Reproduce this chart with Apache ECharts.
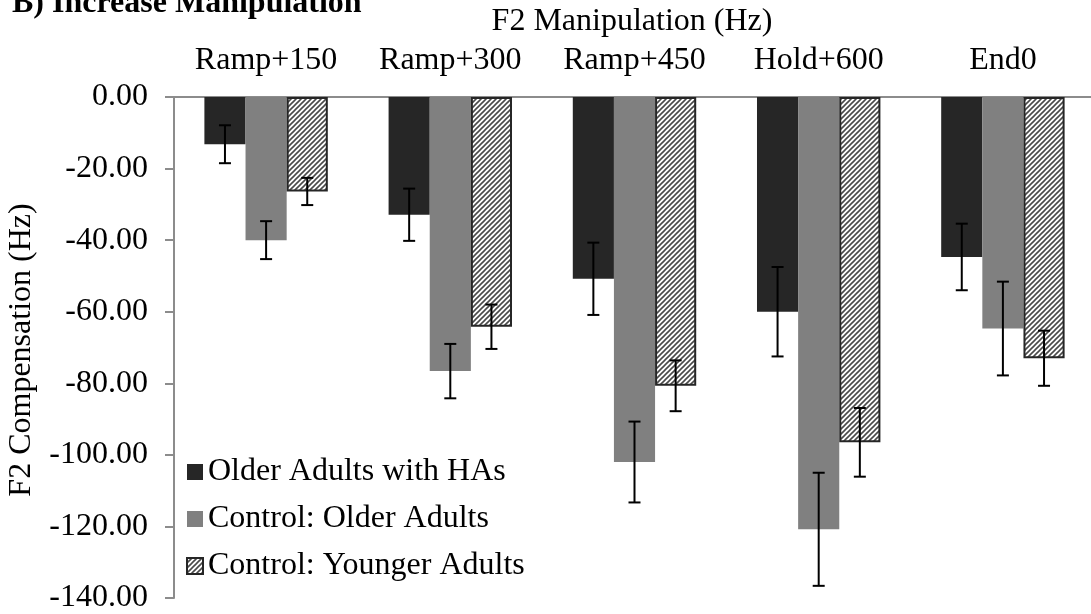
<!DOCTYPE html>
<html>
<head>
<meta charset="utf-8">
<script src="https://cdn.jsdelivr.net/npm/echarts@6/dist/echarts.min.js"></script>
<style>
  html, body { margin: 0; padding: 0; background: #fff; }
  #chart { width: 1091px; height: 614px; }
</style>
</head>
<body>
<div id="chart"></div>
<script>
// Manipulation conditions along the top axis
const categories = ['Ramp+150', 'Ramp+300', 'Ramp+450', 'Hold+600', 'End0'];

// Mean F2 compensation (Hz) per group
const olderHA    = [-13.2, -32.9, -50.8, -60.0, -44.7];
const olderCtrl  = [-40.0, -76.6, -102.0, -120.8, -64.7];
const youngerCtrl = [-26.4, -64.2, -80.7, -96.5, -73.0];

// Error bar half-lengths (Hz)
const olderHAErr    = [5.3, 7.3, 10.1, 12.5, 9.3];
const olderCtrlErr  = [5.3, 7.6, 11.3, 15.8, 13.1];
const youngerCtrlErr = [3.8, 6.2, 7.1, 9.6, 7.7];

const seriesNames = ['Older Adults with HAs', 'Control: Older Adults', 'Control: Younger Adults'];

const FONT = '"Liberation Serif", "Times New Roman", serif';
const FS = 32;

// Diagonal hatch tile for the younger-adult bars
function hatchTile() {
  const s = 5;
  const c = document.createElement('canvas');
  c.width = s; c.height = s;
  const g = c.getContext('2d');
  g.fillStyle = '#ffffff';
  g.fillRect(0, 0, s, s);
  g.strokeStyle = '#4a4a4a';
  g.lineWidth = 1.6;
  g.beginPath();
  g.moveTo(0, s); g.lineTo(s, 0);
  g.moveTo(-1, 1); g.lineTo(1, -1);
  g.moveTo(s - 1, s + 1); g.lineTo(s + 1, s - 1);
  g.stroke();
  return c;
}

const GAP = 0.33;

function errorSeries(idx, means, errs) {
  return {
    type: 'custom',
    name: seriesNames[idx] + ' error',
    z: 10,
    silent: true,
    data: means.map((m, i) => [i, m - errs[i], m + errs[i]]),
    renderItem: function (params, api) {
      const ci = api.value(0);
      const band = api.size([1, 0])[0];
      const bw = band * (1 - GAP) / 3;
      const lo = api.coord([ci, api.value(1)]);
      const hi = api.coord([ci, api.value(2)]);
      const x = lo[0] + (idx - 1) * bw;
      const cap = 6;
      const st = { stroke: '#000', lineWidth: 2 };
      return {
        type: 'group',
        children: [
          { type: 'line', shape: { x1: x, y1: lo[1], x2: x, y2: hi[1] }, style: st },
          { type: 'line', shape: { x1: x - cap, y1: lo[1], x2: x + cap, y2: lo[1] }, style: st },
          { type: 'line', shape: { x1: x - cap, y1: hi[1], x2: x + cap, y2: hi[1] }, style: st }
        ]
      };
    }
  };
}

const chart = echarts.init(document.getElementById('chart'), null, { renderer: 'canvas' });

chart.setOption({
  animation: false,
  backgroundColor: '#ffffff',
  textStyle: { fontFamily: FONT },
  graphic: [
    {
      type: 'text',
      left: 12,
      top: -12,
      style: { text: 'B) Increase Manipulation', font: 'bold 32px ' + FONT, fill: '#000' }
    },
    {
      type: 'text',
      x: 632, y: 22,
      style: {
        text: 'F2 Manipulation (Hz)', font: FS + 'px ' + FONT, fill: '#000',
        textAlign: 'center', textVerticalAlign: 'middle'
      }
    },
    {
      type: 'text',
      x: 22, y: 350,
      rotation: Math.PI / 2,
      style: {
        text: 'F2 Compensation (Hz)', font: FS + 'px ' + FONT, fill: '#000',
        textAlign: 'center', textVerticalAlign: 'middle'
      }
    }
  ],
  legend: {
    orient: 'vertical',
    left: 181,
    top: 451,
    itemWidth: 16,
    itemHeight: 16,
    itemGap: 15,
    icon: 'rect',
    data: seriesNames,
    textStyle: { fontFamily: FONT, fontSize: FS, color: '#000', lineHeight: 32 }
  },
  grid: { left: 174, top: 97, width: 921, height: 501, outerBoundsMode: 'none', containLabel: false },
  xAxis: {
    type: 'category',
    position: 'top',
    data: categories,
    axisLine: { lineStyle: { color: '#8c8c8c', width: 2 } },
    axisTick: { inside: true, length: 8, lineStyle: { color: '#8c8c8c', width: 2 } },
    axisLabel: { interval: 0, hideOverlap: false, fontFamily: FONT, fontSize: FS, color: '#000', margin: 20 }
  },
  yAxis: {
    type: 'value',
    min: -140,
    max: 0,
    interval: 20,
    axisLine: { show: true, lineStyle: { color: '#8c8c8c', width: 2 } },
    axisTick: { show: true, length: 9, lineStyle: { color: '#8c8c8c', width: 2 } },
    splitLine: { show: false },
    axisLabel: {
      fontFamily: FONT, fontSize: FS, color: '#000', margin: 26,
      formatter: v => v.toFixed(2)
    }
  },
  series: [
    {
      type: 'bar', name: seriesNames[0], data: olderHA,
      barGap: '0%', barCategoryGap: (GAP * 100) + '%',
      itemStyle: { color: '#262626' }
    },
    {
      type: 'bar', name: seriesNames[1], data: olderCtrl,
      barGap: '0%', barCategoryGap: (GAP * 100) + '%',
      itemStyle: { color: '#808080' }
    },
    {
      type: 'bar', name: seriesNames[2], data: youngerCtrl,
      barGap: '0%', barCategoryGap: (GAP * 100) + '%',
      itemStyle: {
        color: { image: hatchTile(), repeat: 'repeat' },
        borderColor: '#262626', borderWidth: 2
      }
    },
    errorSeries(0, olderHA, olderHAErr),
    errorSeries(1, olderCtrl, olderCtrlErr),
    errorSeries(2, youngerCtrl, youngerCtrlErr)
  ]
});
</script>
</body>
</html>
